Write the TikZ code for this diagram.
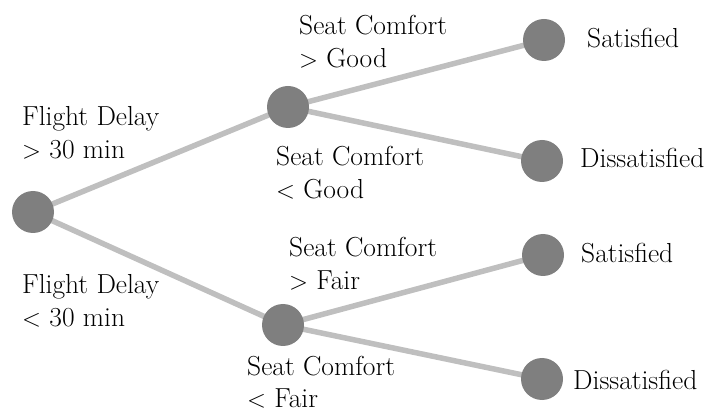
\documentclass[tikz,border=0pt]{standalone}
\usetikzlibrary{backgrounds}
\definecolor{nodegray}{HTML}{7F7F7F}
\definecolor{edgegray}{HTML}{BFBFBF}
\tikzset{
  dot/.style={circle, fill=nodegray, draw=none, minimum size=42pt, inner sep=0pt},
  branch/.style={draw=edgegray, line width=5.5pt},
  lbl/.style={anchor=base west, inner sep=0pt, font=\rmfamily\fontsize{27.5}{32.5}\selectfont},
}
% two stacked lines, baseline on the first one
\newcommand{\twolines}[2]{\vtop{\hbox{#1}\hbox{#2}}}
\begin{document}
\begin{tikzpicture}[x=1pt, y=-1pt]
  \useasboundingbox (0,0) rectangle (713,414);

  % decision points and outcomes
  \node[dot] (root) at (33,212) {};
  \node[dot] (up)   at (288,107) {};
  \node[dot] (low)  at (283,325) {};
  \node[dot] (l1)   at (544,40) {};
  \node[dot] (l2)   at (542,161) {};
  \node[dot] (l3)   at (543,255) {};
  \node[dot] (l4)   at (542,379) {};

  % branches
  \begin{scope}[on background layer]
    \draw[branch] (root.center) -- (up.center);
    \draw[branch] (root.center) -- (low.center);
    \draw[branch] (up.center) -- (l1.center);
    \draw[branch] (up.center) -- (l2.center);
    \draw[branch] (low.center) -- (l3.center);
    \draw[branch] (low.center) -- (l4.center);
  \end{scope}

  % split conditions
  \node[lbl] (c1) at (22,126)  {\twolines{Flight Delay}{$>$ 30 min}};
  \node[lbl] (c2) at (22,294)  {\twolines{Flight Delay}{$<$ 30 min}};
  \node[lbl] (c3) at (299,35)  {\twolines{Seat Comfort}{$>$ Good}};
  \node[lbl] (c4) at (276,166) {\twolines{Seat Comfort}{$<$ Good}};
  \node[lbl] (c5) at (289,257) {\twolines{Seat Comfort}{$>$ Fair}};
  \node[lbl] (c6) at (247,375) {\twolines{Seat Comfort}{$<$ Fair}};

  % outcomes
  \node[lbl] (o1) at (587,48)  {Satisfied};
  \node[lbl] (o2) at (580,168) {Dissatisfied};
  \node[lbl] (o3) at (581,263) {Satisfied};
  \node[lbl] (o4) at (573,390) {Dissatisfied};
\end{tikzpicture}
\end{document}
